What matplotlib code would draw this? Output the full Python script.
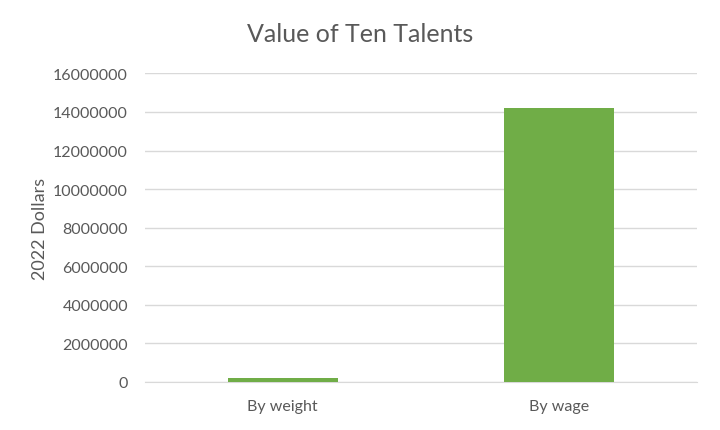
import matplotlib
matplotlib.use("Agg")
import matplotlib.pyplot as plt

categories = ["By weight", "By wage"]
values = [220000, 14190000]
yticks = [0, 2000000, 4000000, 6000000, 8000000, 10000000, 12000000, 14000000, 16000000]

plt.rcParams['font.family'] = ['Lato', 'DejaVu Sans']
grey = '#595959'

fig = plt.figure(figsize=(7.2, 4.31), dpi=100)
ax = fig.add_axes([0.201, 0.1114, 0.767, 0.716])

ax.bar(range(len(categories)), values, width=0.4, color='#70ad47', zorder=3)

ax.set_xlim(-0.5, len(categories) - 0.5)
ax.set_ylim(0, 16000000)
ax.set_yticks(yticks)
ax.set_yticklabels([str(v) for v in yticks])
ax.set_xticks(range(len(categories)))
ax.set_xticklabels(categories)
ax.grid(axis='y', color='#d9d9d9', linewidth=1, zorder=0)
for s in ['top', 'right', 'left']:
    ax.spines[s].set_visible(False)
ax.spines['bottom'].set_color('#d9d9d9')
ax.tick_params(axis='both', length=0, colors=grey, labelsize=11.5)
ax.tick_params(axis='y', pad=12)
ax.tick_params(axis='x', pad=12)

ax.set_ylabel("2022 Dollars", color=grey, fontsize=13, labelpad=4)
fig.text(0.5, 0.921, "Value of Ten Talents", ha='center', va='center', fontsize=18, color=grey)

fig.savefig("out.png", dpi=100, facecolor='white')
